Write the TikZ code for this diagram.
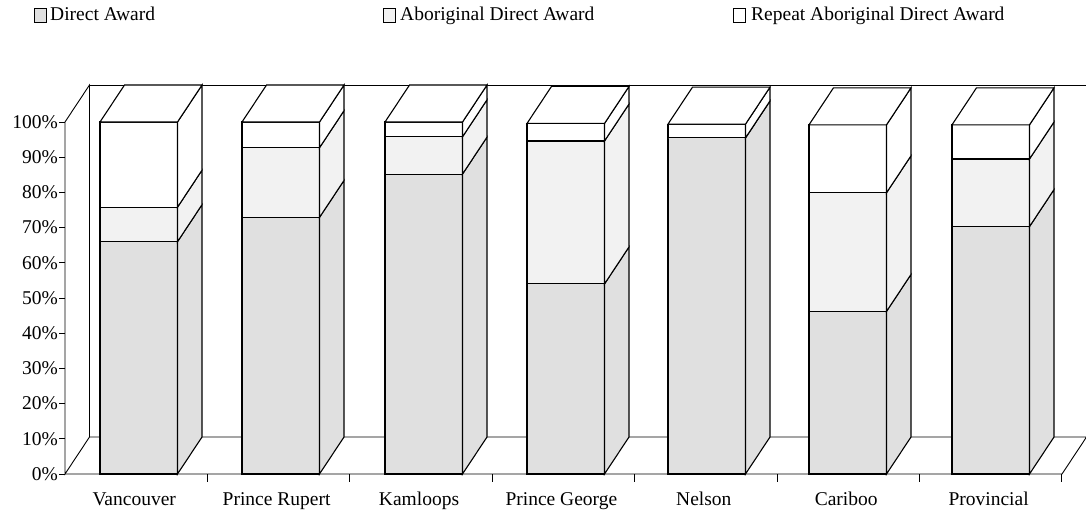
\documentclass[tikz,border=0pt]{standalone}
\usepackage{fontspec}
\setmainfont{Liberation Serif}
\tikzset{
  barline/.style={draw=black,line width=1.1pt,line join=miter},
  wallline/.style={draw=black,line width=0.9pt},
  lbl/.style={font=\fontsize{19.5}{22}\selectfont,inner sep=0pt},
  dirfill/.style={fill=black!12},
  abofill/.style={fill=black!5},
  repfill/.style={fill=white},
}
\newcommand\segbox[5]{%
  \filldraw[barline,#5] (#1,#3) rectangle (#2,#4);
  \filldraw[barline,#5] (#2,#3) -- (#2+24.5,#3-37) -- (#2+24.5,#4-37) -- (#2,#4) -- cycle;
}
\newcommand\stackbar[4]{%
  \pgfmathsetmacro\xl{#1}%
  \pgfmathsetmacro\xr{#1+77.5}%
  \pgfmathsetmacro\yb{474-3.52*#2}%
  \pgfmathsetmacro\yc{474-3.52*#3}%
  \pgfmathsetmacro\yd{474-3.52*#4}%
  \segbox{\xl}{\xr}{474}{\yb}{dirfill}
  \segbox{\xl}{\xr}{\yb}{\yc}{abofill}
  \segbox{\xl}{\xr}{\yc}{\yd}{repfill}
  \filldraw[barline,fill=white] (\xl,\yd) -- (\xl+24.5,\yd-37) -- (\xr+24.5,\yd-37) -- (\xr,\yd) -- cycle;
}
\begin{document}
\begin{tikzpicture}[x=1pt,y=-1pt]
\useasboundingbox (0,0) rectangle (1086,511);
% walls and floor
\coordinate (o) at (65,474);
\coordinate (t) at (65,122);
\coordinate (bo) at (89.5,437);
\coordinate (bt) at (89.5,85);
\coordinate (fr) at (1062,474);
\coordinate (br) at (1086.5,437);
\coordinate (tr) at (1086.5,85);
\draw[wallline] (t) -- (bt) -- (bo) -- (o) -- cycle;
\draw[wallline] (bt) -- (tr);
\draw[wallline] (bo) -- (br) -- (fr) -- (o);
% y ticks and labels
\foreach \p in {0,10,...,100}{
  \draw[wallline] (59,474-3.52*\p) -- (65,474-3.52*\p);
  \node[lbl,anchor=east] (ylab\p) at (58,474-3.52*\p) {\p\%};
}
% x ticks
\foreach \k in {1,...,7}{
  \draw[wallline] (65+142.4*\k,474) -- (65+142.4*\k,482);
}
% bars
\stackbar{100}{66}{75.8}{100}
\stackbar{242}{72.9}{92.7}{100}
\stackbar{385}{85.2}{95.8}{100}
\stackbar{527}{54}{94.6}{99.6}
\stackbar{668}{95.5}{95.5}{99.4}
\stackbar{809}{46.2}{79.9}{99.2}
\stackbar{952}{70.3}{89.5}{99.2}
% x labels
\node[lbl,anchor=base] (c1) at (134.2,505) {Vancouver};
\node[lbl,anchor=base] (c2) at (276.6,505) {Prince Rupert};
\node[lbl,anchor=base] (c3) at (419,505) {Kamloops};
\node[lbl,anchor=base] (c4) at (561.4,505) {Prince George};
\node[lbl,anchor=base] (c5) at (703.8,505) {Nelson};
\node[lbl,anchor=base] (c6) at (846.2,505) {Cariboo};
\node[lbl,anchor=base] (c7) at (988.6,505) {Provincial};
% legend
\filldraw[wallline,dirfill] (34,8) rectangle (46,22);
\node[lbl,anchor=base west] (l1) at (50,21) {Direct Award};
\filldraw[wallline,abofill] (383,8) rectangle (395,22);
\node[lbl,anchor=base west] (l2) at (400,21) {Aboriginal Direct Award};
\filldraw[wallline,repfill] (733,8) rectangle (745,22);
\node[lbl,anchor=base west] (l3) at (751,21) {Repeat Aboriginal Direct Award};
\end{tikzpicture}
\end{document}
